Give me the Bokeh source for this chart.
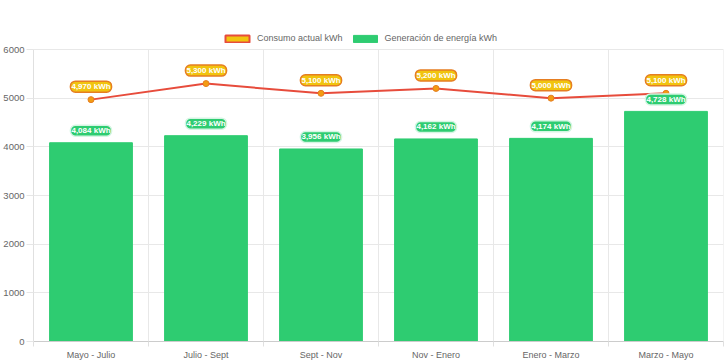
from bokeh.plotting import figure
from bokeh.models import Range1d, FixedTicker, Legend, LegendItem, ColumnDataSource
from bokeh.core.properties import value
from bokeh.embed import file_html
from bokeh.resources import INLINE

categories = ["Mayo - Julio", "Julio - Sept", "Sept - Nov", "Nov - Enero", "Enero - Marzo", "Marzo - Mayo"]
consumo = [4970, 5300, 5100, 5200, 5000, 5100]
generacion = [4084, 4229, 3956, 4162, 4174, 4728]
y_ticks = [0, 1000, 2000, 3000, 4000, 5000, 6000]

FONT = "Liberation Sans"
xs = [i + 0.5 for i in range(len(categories))]
bounds = list(range(len(categories) + 1))

# layout: the frame extends above the top tick so the legend fits inside it
FRAME_TOP, AXIS_TOP, FRAME_BOTTOM = 26, 49, 341
y_max = y_ticks[-1]
y_end = y_max * (FRAME_BOTTOM - FRAME_TOP) / (FRAME_BOTTOM - AXIS_TOP)

src = ColumnDataSource(dict(
    x=xs, consumo=consumo, gen=generacion,
    cl=[f"{v:,} kWh" for v in consumo],
    gl=[f"{v:,} kWh" for v in generacion],
))

p = figure(width=728, height=363, output_backend="svg", toolbar_location=None,
           x_range=Range1d(0, len(categories)), y_range=Range1d(0, y_end),
           min_border_left=31, min_border_right=5, min_border_top=FRAME_TOP,
           min_border_bottom=363 - FRAME_BOTTOM)
p.outline_line_color = None
p.background_fill_color = "white"
p.border_fill_color = "white"

# axes
p.yaxis.ticker = FixedTicker(ticks=y_ticks)
p.yaxis.bounds = (0, y_max)
p.yaxis.axis_line_color = "#e0e0e0"
p.yaxis.major_tick_line_color = "#e6e6e6"
p.yaxis.major_tick_out = 7
p.yaxis.major_tick_in = 0
p.yaxis.minor_tick_line_color = None
p.yaxis.minor_tick_out = 0
p.yaxis.major_label_standoff = 2
p.yaxis.major_label_text_font = FONT
p.yaxis.major_label_text_font_size = "9.5px"
p.yaxis.major_label_text_color = "#666666"

p.xaxis.ticker = FixedTicker(ticks=xs, minor_ticks=bounds)
p.xaxis.major_label_overrides = {x: c for x, c in zip(xs, categories)}
p.xaxis.axis_line_color = "#cccccc"
p.xaxis.major_tick_line_color = None
p.xaxis.major_tick_out = 0
p.xaxis.major_tick_in = 0
p.xaxis.minor_tick_line_color = "#e0e0e0"
p.xaxis.minor_tick_out = 5
p.xaxis.minor_tick_in = 0
p.xaxis.major_label_standoff = 3
p.xaxis.major_label_text_font = FONT
p.xaxis.major_label_text_font_size = "9px"
p.xaxis.major_label_text_color = "#666666"

p.xgrid.grid_line_color = None
p.ygrid.grid_line_color = "#e8e8e8"

# vertical grid lines between categories, limited to the axis extent
grid_src = ColumnDataSource(dict(x=bounds, y0=[0] * len(bounds), y1=[y_max] * len(bounds)))
p.segment(x0="x", y0="y0", x1="x", y1="y1", source=grid_src, line_color="#e8e8e8", line_width=1)

# bars
bars = p.vbar(x="x", top="gen", width=0.72, source=src, fill_color="#2ecc71",
              line_color="#2ecc71")
# line
line = p.line(x="x", y="consumo", source=src, line_color="#e74c3c", line_width=2)
p.scatter(x="x", y="consumo", source=src, size=6, fill_color="#f39c12", line_color="#e67e22", line_width=1)

# labels
p.text(x="x", y="gen", text="gl", source=src, y_offset=-12, text_align="center",
       text_baseline="middle", text_font=value(FONT), text_font_size="8px",
       text_font_style="bold", text_color="white",
       background_fill_color="#2ecc71", border_line_color="#d5f5e3", border_line_width=1.5,
       border_radius=5, padding=1)
p.text(x="x", y="consumo", text="cl", source=src, y_offset=-13, text_align="center",
       text_baseline="middle", text_font=value(FONT), text_font_size="8px",
       text_font_style="bold", text_color="white",
       background_fill_color="#f1c40f", border_line_color="#e67e22", border_line_width=1.5,
       border_radius=5, padding=1)

# legend proxy for the line series (box style like the reference legend)
cons_proxy = p.vbar(x="x", top="consumo", width=0.72, source=src,
                    fill_color="#f1c40f", line_color="#e74c3c", line_width=2, visible=False)
legend = Legend(items=[
    LegendItem(label="Consumo actual kWh", renderers=[cons_proxy]),
    LegendItem(label="Generación de energía kWh", renderers=[bars]),
], orientation="horizontal", location=(189, 298))
legend.glyph_width = 30
legend.glyph_height = 9
legend.label_standoff = 5
legend.spacing = 7
legend.padding = 2
legend.margin = 0
legend.border_line_color = None
legend.background_fill_alpha = 0
legend.inactive_fill_alpha = 1.0
legend.label_text_font = FONT
legend.label_text_font_size = "9px"
legend.label_text_color = "#666666"
legend.label_height = 9
p.add_layout(legend)

open("out.html", "w").write(file_html(p, INLINE))
